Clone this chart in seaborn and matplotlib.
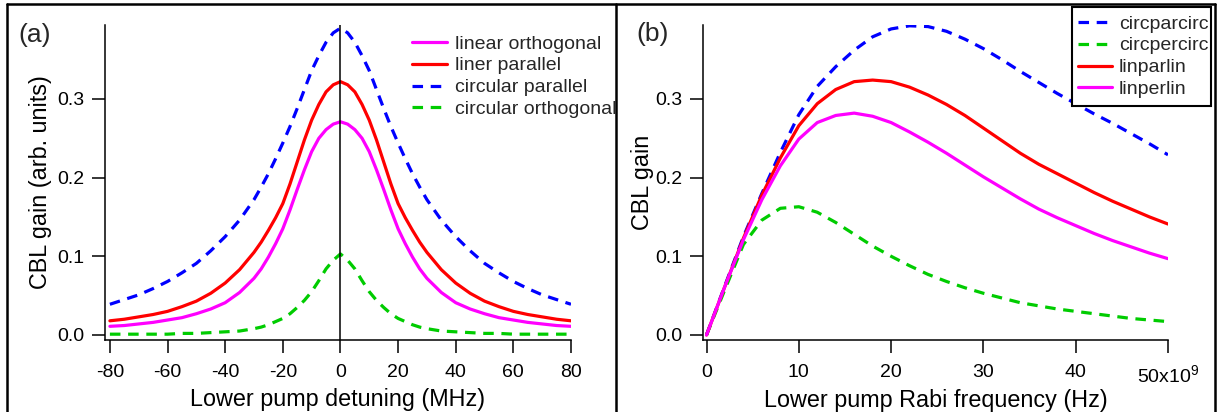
import matplotlib
matplotlib.use("Agg")
import matplotlib.pyplot as plt
from matplotlib.lines import Line2D
from matplotlib.patches import Rectangle
from matplotlib.ticker import FormatStrFormatter
import pandas as pd
import seaborn as sns

# ---- (a) CBL gain vs lower pump detuning (MHz) ----
detuning_mhz = [-80, -75, -70, -65, -60, -55, -50, -45, -40, -35, -30, -27.5, -25, -22.5,
                -20, -17.5, -15, -12.5, -10, -7.5, -5, -2.5, 0, 2.5, 5, 7.5, 10, 12.5,
                15, 17.5, 20, 22.5, 25, 27.5, 30, 35, 40, 45, 50, 55, 60, 65, 70, 75, 80]
gain_linear_orthogonal = [0.011, 0.012, 0.014, 0.016, 0.019, 0.022, 0.027, 0.033, 0.041,
                          0.054, 0.072, 0.084, 0.099, 0.116, 0.135, 0.159, 0.185, 0.210,
                          0.233, 0.250, 0.261, 0.268, 0.271, 0.268, 0.261, 0.250, 0.233,
                          0.210, 0.185, 0.159, 0.135, 0.116, 0.099, 0.084, 0.072, 0.054,
                          0.041, 0.033, 0.027, 0.022, 0.019, 0.016, 0.014, 0.012, 0.011]
gain_linear_parallel = [0.018, 0.020, 0.023, 0.026, 0.030, 0.036, 0.043, 0.053, 0.066,
                        0.083, 0.105, 0.118, 0.133, 0.149, 0.167, 0.192, 0.220, 0.248,
                        0.273, 0.293, 0.309, 0.318, 0.322, 0.318, 0.309, 0.293, 0.273,
                        0.248, 0.220, 0.192, 0.167, 0.149, 0.133, 0.118, 0.105, 0.083,
                        0.066, 0.053, 0.043, 0.036, 0.030, 0.026, 0.023, 0.020, 0.018]
gain_circular_parallel = [0.039, 0.045, 0.051, 0.059, 0.068, 0.079, 0.091, 0.107, 0.125,
                          0.146, 0.172, 0.188, 0.205, 0.224, 0.244, 0.265, 0.288, 0.312,
                          0.336, 0.355, 0.372, 0.384, 0.390, 0.384, 0.372, 0.355, 0.336,
                          0.312, 0.288, 0.265, 0.244, 0.224, 0.205, 0.188, 0.172, 0.146,
                          0.125, 0.107, 0.091, 0.079, 0.068, 0.059, 0.051, 0.045, 0.039]
gain_circular_orthogonal = [0.001, 0.001, 0.001, 0.001, 0.001, 0.002, 0.002, 0.003, 0.004,
                            0.005, 0.008, 0.010, 0.013, 0.017, 0.021, 0.027, 0.035, 0.044,
                            0.055, 0.069, 0.084, 0.095, 0.103, 0.095, 0.084, 0.069, 0.055,
                            0.044, 0.035, 0.027, 0.021, 0.017, 0.013, 0.010, 0.008, 0.005,
                            0.004, 0.003, 0.002, 0.002, 0.001, 0.001, 0.001, 0.001, 0.001]
labels_a = ["linear orthogonal", "liner parallel", "circular parallel", "circular orthogonal"]
xticks_a = [-80, -60, -40, -20, 0, 20, 40, 60, 80]

# ---- (b) CBL gain vs lower pump Rabi frequency (units of 1e9 Hz) ----
rabi_freq = [0, 2, 4, 6, 8, 10, 12, 14, 16, 18, 20, 22, 24, 26, 28, 30, 32, 34, 36, 38,
             40, 42, 44, 46, 48, 50]
gain_circparcirc = [0, 0.063, 0.125, 0.180, 0.232, 0.280, 0.316, 0.341, 0.362, 0.379, 0.389,
                    0.393, 0.392, 0.386, 0.376, 0.364, 0.350, 0.335, 0.321, 0.307, 0.294,
                    0.281, 0.269, 0.256, 0.243, 0.229]
gain_circpercirc = [0, 0.058, 0.115, 0.146, 0.161, 0.163, 0.156, 0.143, 0.128, 0.113, 0.100,
                    0.088, 0.077, 0.068, 0.060, 0.053, 0.047, 0.041, 0.037, 0.033, 0.030,
                    0.027, 0.024, 0.021, 0.019, 0.017]
gain_linparlin = [0, 0.062, 0.123, 0.178, 0.225, 0.266, 0.294, 0.312, 0.322, 0.324, 0.322,
                  0.315, 0.305, 0.293, 0.279, 0.263, 0.247, 0.231, 0.217, 0.205, 0.193,
                  0.181, 0.170, 0.160, 0.150, 0.141]
gain_linperlin = [0, 0.062, 0.121, 0.172, 0.215, 0.249, 0.270, 0.279, 0.282, 0.278, 0.270,
                  0.258, 0.245, 0.231, 0.216, 0.201, 0.187, 0.173, 0.160, 0.149, 0.139,
                  0.129, 0.120, 0.112, 0.104, 0.097]
labels_b = ["circparcirc", "circpercirc", "linparlin", "linperlin"]
xticks_b = [0, 10, 20, 30, 40, 50]
xticklabels_b = ["0", "10", "20", "30", "40", "50x10$^{\\mathrm{9}}$"]
yticks = [0.0, 0.1, 0.2, 0.3]

sns.set_theme(style="ticks")
plt.rcParams["font.family"] = ["Liberation Sans", "DejaVu Sans"]
plt.rcParams["axes.unicode_minus"] = False
plt.rcParams["mathtext.fontset"] = "custom"
plt.rcParams["mathtext.rm"] = "Liberation Sans"
plt.rcParams["mathtext.it"] = "Liberation Sans:italic"

MAGENTA, RED, BLUE, GREEN = "#FF00FF", "#FF0000", "#0000FF", "#00CC00"
LW = 2.3
DASH = (0, (3.3, 2.4))
TICK_FS, LABEL_FS, LEGEND_FS = 14, 16.8, 14

W, H = 1223, 412
fig = plt.figure(figsize=(W / 100, H / 100), dpi=100)


def axes_px(left, right, top, bottom):
    return fig.add_axes([left / W, 1 - bottom / H, (right - left) / W, (bottom - top) / H])


ax_a = axes_px(105, 571, 25, 340)
ax_b = axes_px(703, 1168, 25, 340)

df_a = pd.DataFrame({
    "detuning": detuning_mhz,
    labels_a[0]: gain_linear_orthogonal,
    labels_a[1]: gain_linear_parallel,
    labels_a[2]: gain_circular_parallel,
    labels_a[3]: gain_circular_orthogonal,
})
styles_a = {labels_a[0]: (MAGENTA, "-"), labels_a[1]: (RED, "-"),
            labels_a[2]: (BLUE, DASH), labels_a[3]: (GREEN, DASH)}
for name in labels_a:
    c, ls = styles_a[name]
    sns.lineplot(data=df_a, x="detuning", y=name, ax=ax_a, color=c, linestyle=ls,
                 linewidth=LW, label=name, errorbar=None, sort=False)

df_b = pd.DataFrame({
    "rabi": rabi_freq,
    labels_b[0]: gain_circparcirc,
    labels_b[1]: gain_circpercirc,
    labels_b[2]: gain_linparlin,
    labels_b[3]: gain_linperlin,
})
styles_b = {labels_b[0]: (BLUE, DASH), labels_b[1]: (GREEN, DASH),
            labels_b[2]: (RED, "-"), labels_b[3]: (MAGENTA, "-")}
for name in labels_b:
    c, ls = styles_b[name]
    sns.lineplot(data=df_b, x="rabi", y=name, ax=ax_b, color=c, linestyle=ls,
                 linewidth=LW, label=name, errorbar=None, sort=False)

# zero-detuning marker line
ax_a.axvline(0, color="black", lw=1.1, zorder=4)

for ax in (ax_a, ax_b):
    sns.despine(ax=ax)
    for side in ("left", "bottom"):
        ax.spines[side].set_color("black")
        ax.spines[side].set_linewidth(1.1)
    ax.set_ylim(-0.0064, 0.394)
    ax.set_yticks(yticks)
    ax.yaxis.set_major_formatter(FormatStrFormatter("%.1f"))
    ax.tick_params(direction="out", length=9.5, width=1.1, colors="black",
                   labelsize=TICK_FS, pad=5)
    ax.tick_params(axis="x", pad=8)
    ax.set_facecolor("white")

ax_a.set_xlim(-81.7, 80)
ax_a.set_xticks(xticks_a)
ax_a.set_xlabel("Lower pump detuning (MHz)", fontsize=LABEL_FS, color="black", labelpad=5)
ax_a.set_ylabel("CBL gain (arb. units)", fontsize=LABEL_FS, color="black", labelpad=4)

ax_b.set_xlim(-0.38, 50)
ax_b.set_xticks(xticks_b)
ax_b.set_xticklabels(xticklabels_b)
ax_b.set_xlabel("Lower pump Rabi frequency (Hz)", fontsize=LABEL_FS, color="black", labelpad=2)
ax_b.set_ylabel("CBL gain", fontsize=LABEL_FS, color="black", labelpad=1)

legend_kw = dict(bbox_transform=fig.transFigure, loc="upper left", frameon=False,
                 fontsize=LEGEND_FS, handlelength=1.8, handletextpad=0.4,
                 labelspacing=0.22, borderpad=0, borderaxespad=0)

h, l = ax_a.get_legend_handles_labels()
ax_a.legend(h, l, bbox_to_anchor=(412 / W, 1 - 35 / H), **legend_kw)

# boxed legend for (b): white box with black border behind the entries
box = Rectangle((1072 / W, 1 - 106 / H), (1211 - 1072) / W, (106 - 7.3) / H,
                transform=fig.transFigure, facecolor="white", edgecolor="black",
                linewidth=1.5, zorder=5)
fig.add_artist(box)
h, l = ax_b.get_legend_handles_labels()
legend_kw_b = dict(legend_kw, handlelength=1.75, handletextpad=0.35)
leg_b = ax_b.legend(h, l, bbox_to_anchor=(1078 / W, 1 - 15 / H), **legend_kw_b)
leg_b.remove()
fig.add_artist(leg_b)
leg_b.set_zorder(6)

fig.text(18 / W, 1 - 35 / H, "(a)", fontsize=19, ha="left", va="center")
fig.text(636 / W, 1 - 34 / H, "(b)", fontsize=19, ha="left", va="center")

# panel frames
frame_kw = dict(transform=fig.transFigure, color="black", lw=1.8)
top = 1 - 4.3 / H
fig.add_artist(Line2D([6.5 / W, 1214.5 / W], [top, top], **frame_kw))
fig.add_artist(Line2D([6.5 / W, 6.5 / W], [0, top], **frame_kw))
fig.add_artist(Line2D([616 / W, 616 / W], [0, top], **frame_kw))
fig.add_artist(Line2D([1214.5 / W, 1214.5 / W], [0, top], **frame_kw))

fig.savefig("out.png", dpi=100, facecolor="white")
